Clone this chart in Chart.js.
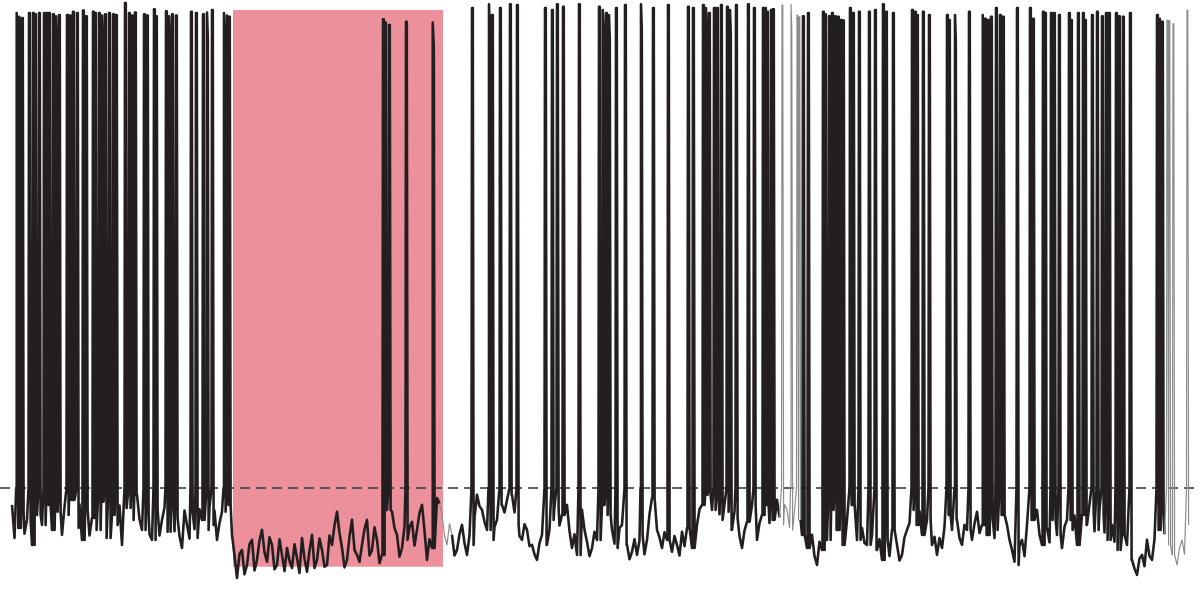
<!DOCTYPE html>
<html>
<head>
<meta charset="utf-8">
<script src="https://cdn.jsdelivr.net/npm/chart.js@4.4.1/dist/chart.umd.min.js"></script>
<style>
  html, body { margin: 0; padding: 0; background: #fff; }
  #trace { display: block; }
</style>
</head>
<body>
<canvas id="trace" width="1200" height="593"></canvas>
<script>
// membrane potential, sampled every 0.25 s from 0.6 s (mV)
const sampleStart = 0.6;
const sampleStep = 0.25;
const baselineMv = [
  -47.7, -51.4, -48.8, -50.1, -54.1, -49.3, -50.9, -47.7, -51.7, -48.8,
  -52.5, -49.3, -46.9, -51.4, -53.3, -48.5, -49.8, -51.7, -47.2, -53.0,
  -49.3, -50.9, -54.1, -48.2, -50.1, -46.1, -51.7, -49.3, -53.3, -48.5,
  -50.1, -52.0, -47.7, -49.8, -54.6, -50.9, -48.8, -53.0, -50.1, -51.7,
  -50.9, -53.3, -48.8, -47.7, -52.5, -59.4, -54.9, -57.3, -53.3, -56.5,
  -51.7, -56.8, -54.1, -57.3, -55.7, -54.6, -57.8, -56.2, -53.0, -58.4,
  -52.5, -56.5, -54.9, -57.3, -54.1, -48.8, -54.6, -56.5, -50.1, -55.7,
  -54.1, -50.1, -54.9, -53.3, -55.7, -48.5, -48.8, -52.5, -54.6, -53.3,
  -50.4, -51.7, -47.7, -56.5, -54.6, -46.6, -49.3, -54.1, -52.5, -54.9,
  -50.9, -55.7, -54.1, -46.1, -48.5, -51.7, -53.3, -50.1, -47.7, -46.9,
  -46.1, -50.9, -53.3, -51.7, -54.1, -56.5, -52.5, -54.1, -50.1, -48.2,
  -49.3, -47.7, -54.6, -55.7, -48.5, -53.6, -54.6, -53.3, -47.7, -49.3,
  -51.7, -54.6, -50.9, -54.1, -55.2, -55.7, -52.5, -53.3, -46.6, -51.7,
  -54.6, -53.3, -55.2, -54.1, -52.0, -51.4, -54.6, -50.9, -47.7, -46.1,
  -48.5, -46.9, -50.1, -48.8, -51.7, -49.8, -54.6, -50.4, -47.7, -53.3,
  -49.3, -47.7, -50.1, -46.9, -50.9, -48.5, -51.7, -50.1, -52.5, -54.6,
  -52.5, -57.3, -54.9, -53.3, -48.5, -51.7, -54.1, -50.1, -47.7, -53.3,
  -51.4, -54.1, -52.5, -54.9, -56.5, -53.3, -51.7, -54.1, -55.7, -51.7,
  -48.5, -50.9, -52.5, -50.1, -54.1, -55.7, -54.6, -49.3, -51.7, -50.1,
  -54.1, -51.7, -53.3, -48.8, -50.9, -52.5, -49.8, -51.7, -49.3, -50.9,
  -54.9, -57.3, -53.3, -50.9, -50.1, -48.5, -54.1, -51.4, -50.1, -52.5,
  -54.6, -50.1, -51.7, -54.1, -49.3, -50.9, -48.5, -51.7, -49.3, -53.3,
  -50.9, -54.9, -52.5, -54.1, -56.5, -58.9, -55.7, -53.3, -56.5, -51.7,
  -49.3, -54.1, -55.7, -57.3, -53.3, -50.9
];
// readings half-way between the samples above (0.725 s onwards)
const baselineMidMv = [
  -53.0, -47.5, -52.3, -47.9, -51.0, -53.6, -46.8, -52.9, -47.4, -51.5,
  -48.0, -52.4, -50.2, -47.6, -49.9, -52.6, -47.3, -49.0, -51.8, -47.5,
  -52.8, -47.8, -50.5, -52.7, -47.4, -50.0, -47.6, -52.4, -49.1, -52.6,
  -48.1, -49.5, -51.9, -52.7, -48.6, -53.1, -51.6, -48.4, -53.2, -48.0,
  -48.6, -50.6, -52.7, -50.4, -55.8, -55.6, -58.8, -54.0, -58.2, -53.4,
  -55.3, -52.9, -58.0, -53.2, -58.3, -56.6, -54.0, -58.6, -56.3, -55.0,
  -57.8, -53.1, -57.6, -52.6, -51.0, -52.2, -57.7, -52.8, -54.9, -56.8,
  -51.6, -55.8, -51.3, -57.0, -52.0, -47.5, -51.4, -56.0, -51.2, -51.3,
  -54.2, -49.0, -51.8, -53.2, -50.3, -47.5, -52.6, -50.7, -55.8, -52.4,
  -53.8, -52.6, -49.8, -47.9, -50.4, -54.2, -51.2, -49.0, -48.9, -48.2,
  -48.9, -52.7, -50.8, -54.3, -55.6, -53.8, -55.5, -51.6, -47.9, -51.0,
  -46.7, -51.9, -52.4, -51.0, -51.7, -55.9, -52.0, -49.9, -50.6, -53.5,
  -53.9, -51.4, -53.6, -56.4, -53.2, -53.4, -55.6, -49.2, -49.5, -52.9,
  -52.1, -56.2, -52.7, -55.8, -54.3, -53.5, -52.2, -48.4, -49.8, -47.6,
  -47.1, -49.2, -47.6, -51.6, -48.7, -52.7, -51.8, -49.0, -51.2, -50.6,
  -46.8, -50.6, -48.0, -49.7, -47.6, -51.3, -48.6, -53.4, -55.3, -51.0,
  -55.9, -53.6, -57.1, -50.4, -50.9, -54.6, -51.3, -48.6, -51.5, -54.2,
  -53.8, -51.0, -55.7, -53.2, -54.0, -55.9, -53.6, -56.6, -52.9, -50.6,
  -51.8, -48.7, -52.9, -53.4, -52.8, -53.0, -51.2, -52.7, -48.9, -53.0,
  -50.9, -54.6, -50.7, -52.2, -53.6, -49.9, -53.0, -48.6, -52.6, -53.3,
  -56.8, -54.2, -55.9, -52.4, -47.9, -52.5, -50.3, -53.7, -48.9, -55.8,
  -51.2, -53.5, -49.4, -51.6, -52.8, -47.6, -51.9, -48.4, -52.1, -50.0,
  -53.6, -51.5, -55.8, -52.6, -57.9, -56.3, -57.5, -55.9, -53.2, -52.8,
  -52.4, -51.8, -58.0, -54.6, -55.6
];

// action potential times (s) and peaks (mV)
const spikeTimes = [
  0.835, 0.965, 1.10, 1.45, 1.65, 1.75, 1.95, 2.20, 2.35, 2.45,
  2.65, 2.80, 2.95, 3.35, 3.50, 3.65, 3.85, 4.15, 4.30, 4.65,
  4.75, 4.95, 5.10, 5.25, 5.45, 5.65, 5.80, 6.25, 6.45, 6.60,
  6.75, 7.20, 7.35, 7.70, 7.80, 8.30, 8.45, 8.60, 8.80, 9.55,
  9.80, 10.15, 10.35, 10.60, 11.20, 11.35, 11.45,
  19.15, 19.25, 19.45, 20.30, 21.65,
  23.60, 24.45, 24.60, 25.00, 25.50, 25.85, 27.25, 27.60, 27.85, 28.15, 28.95, 29.95,
  30.15, 30.30, 30.45, 30.80, 31.25, 32.05, 32.65, 33.40, 34.40, 34.65,
  35.15, 35.30, 35.45, 35.70, 35.85, 36.05, 36.35, 36.50, 36.80, 37.40,
  37.70, 38.15, 38.25, 38.35, 38.55, 38.65, 39.10, 39.55, 39.85, 39.95,
  40.15, 40.40, 41.15, 41.25, 41.45, 41.60, 41.75, 41.90, 42.05, 42.15,
  42.50, 42.65, 42.95, 43.45, 43.75, 44.15, 44.30, 44.65,
  45.60, 45.75, 45.85, 46.15, 46.45, 47.35, 47.45, 47.75, 48.45, 49.15,
  49.25, 49.40, 49.55, 49.80, 50.00, 50.15, 50.85, 51.50, 51.65, 52.15,
  52.25, 52.55, 52.70, 52.95, 53.45, 53.55, 53.90, 54.15, 54.25, 54.60,
  54.85, 55.10, 55.30, 55.45, 55.80, 55.95, 56.15, 56.50, 57.85, 57.95,
  58.10, 58.35, 58.45, 58.65, 59.35
];
const spikePeaks = [
  31.0, 30.4, 30.2, 31.0, 31.0, 30.8, 31.0, 31.0, 31.0, 31.0,
  30.8, 30.5, 30.7, 30.7, 30.6, 31.2, 31.0, 31.4, 30.5, 31.2,
  31.0, 31.0, 30.6, 30.8, 31.0, 30.8, 30.7, 32.6, 31.0, 30.6,
  31.1, 30.8, 30.6, 31.6, 30.5, 31.3, 30.5, 30.8, 30.6, 31.2,
  31.0, 30.8, 31.1, 31.5, 31.0, 30.6, 30.4,
  30.0, 29.5, 29.1, 29.6, 29.5,
  31.8, 32.4, 30.7, 31.8, 32.4, 32.3, 31.8, 31.5, 32.4, 32.0, 32.4, 32.0,
  31.5, 31.0, 30.7, 31.8, 32.3, 32.4, 31.8, 32.3, 32.0, 31.8,
  32.3, 31.8, 31.0, 31.8, 31.8, 32.3, 32.0, 31.5, 32.3, 32.4,
  31.8, 31.8, 31.8, 31.2, 31.5, 31.6, 32.3, 32.4, 30.7, 30.4,
  30.5, 31.0, 31.2, 30.8, 30.5, 31.0, 30.5, 30.4, 29.9, 29.8,
  31.8, 31.0, 31.2, 31.2, 31.5, 32.4, 31.2, 31.0,
  31.5, 31.2, 30.7, 31.2, 30.7, 30.7, 29.9, 30.7, 31.2, 30.7,
  30.1, 29.9, 30.4, 31.8, 30.7, 30.4, 31.8, 31.8, 30.1, 31.2,
  31.0, 31.0, 31.0, 30.7, 31.0, 29.9, 31.0, 31.0, 29.9, 30.7,
  31.2, 30.5, 31.0, 31.0, 31.0, 30.5, 30.4, 31.0, 30.7, 30.1,
  29.6, 29.9, 29.8, 29.3, 31.5
];

const thresholdMv = -45;
const stimWindow = [11.65, 22.15];     // s
const stimSpan = [-57.6, 31.5];        // mV
const faintSpans = [[21.9, 22.6], [38.9, 40.0], [58.2, 59.6]];

// build the trace: baseline samples + spike waveforms
let points = baselineMv.map((v, i) => ({ x: sampleStart + i * sampleStep, y: v }));
baselineMidMv.forEach((v, i) => points.push({ x: sampleStart + sampleStep / 2 + i * sampleStep, y: v }));
points = points.filter(p => !spikeTimes.some(t => p.x > t - 0.03 && p.x < t + 0.085));
spikeTimes.forEach((t, i) => {
  const idx = Math.min(baselineMv.length - 1, Math.max(0, Math.round((t - sampleStart) / sampleStep)));
  points.push({ x: t - 0.025, y: thresholdMv });
  points.push({ x: t, y: spikePeaks[i] });
  points.push({ x: t + 0.04, y: spikePeaks[i] - 4 });
  points.push({ x: t + 0.08, y: baselineMv[idx] });
});
points.sort((a, b) => a.x - b.x);

const isFaint = ctx => faintSpans.some(([a, b]) => ctx.p0.parsed.x >= a && ctx.p0.parsed.x < b);

new Chart(document.getElementById('trace'), {
  type: 'line',
  data: {
    datasets: [
      {
        data: points,
        borderColor: '#231f20',
        borderWidth: 2.6,
        borderJoinStyle: 'round',
        fill: false,
        order: 1,
        segment: {
          borderColor: ctx => isFaint(ctx) ? '#8c8c8c' : undefined,
          borderWidth: ctx => isFaint(ctx) ? 1.2 : undefined
        }
      },
      {
        data: [{ x: 0, y: thresholdMv }, { x: 60, y: thresholdMv }],
        borderColor: 'rgba(70,70,70,0.85)',
        borderWidth: 1.8,
        borderDash: [10, 6],
        fill: false,
        order: 2
      },
      {
        data: [{ x: stimWindow[0], y: stimSpan[1] }, { x: stimWindow[1], y: stimSpan[1] }],
        borderWidth: 0,
        backgroundColor: '#ec909b',
        fill: { value: stimSpan[0] },
        order: 3
      }
    ]
  },
  options: {
    responsive: false,
    animation: false,
    devicePixelRatio: 1,
    events: [],
    layout: { padding: 0 },
    elements: { point: { radius: 0 }, line: { tension: 0 } },
    plugins: { legend: { display: false }, tooltip: { enabled: false } },
    scales: {
      x: { type: 'linear', min: 0, max: 60, display: false },
      y: { min: -61.8, max: 33.1, display: false }
    }
  }
});
</script>
</body>
</html>
